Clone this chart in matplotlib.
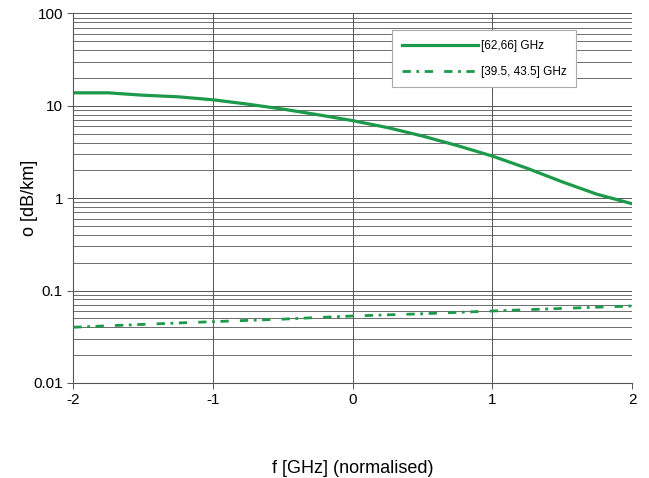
import matplotlib.pyplot as plt
from matplotlib.ticker import LogLocator, FixedLocator, NullFormatter

plt.rcParams['font.family'] = ['Liberation Sans', 'DejaVu Sans']

# normalised frequency offset
f_norm = [-2.0, -1.75, -1.5, -1.25, -1.0, -0.75, -0.5, -0.25, 0.0,
          0.25, 0.5, 0.75, 1.0, 1.25, 1.5, 1.75, 2.0]
# specific attenuation, 62-66 GHz band
att_60 = [13.8, 13.8, 13.0, 12.5, 11.6, 10.4, 9.2, 8.0, 6.9,
          5.8, 4.7, 3.7, 2.85, 2.1, 1.5, 1.1, 0.87]
# specific attenuation, 39.5-43.5 GHz band
att_40 = [0.040, 0.0415, 0.043, 0.0445, 0.046, 0.0475, 0.049, 0.051, 0.053,
          0.0545, 0.056, 0.058, 0.060, 0.062, 0.064, 0.066, 0.068]

GREEN = '#1c9a4a'

fig = plt.figure(figsize=(6.49, 4.78), dpi=100)
ax = fig.add_axes([0.113, 0.199, 0.861, 0.773])

ax.plot(f_norm, att_60, color=GREEN, lw=2.3, label='[62,66] GHz')
ax.plot(f_norm, att_40, color=GREEN, lw=2.0, dashes=(3, 2, 1, 2, 3, 4),
        label='[39.5, 43.5] GHz')

ax.set_yscale('log')
ax.set_ylim(0.01, 100)
ax.set_xlim(-2, 2)
ax.xaxis.set_major_locator(FixedLocator([-2, -1, 0, 1, 2]))
ax.set_xticklabels(['-2', '-1', '0', '1', '2'])
ax.yaxis.set_major_locator(FixedLocator([0.01, 0.1, 1, 10, 100]))
ax.set_yticklabels(['0.01', '0.1', '1', '10', '100'])
ax.yaxis.set_minor_locator(LogLocator(base=10, subs=range(2, 10)))
ax.yaxis.set_minor_formatter(NullFormatter())

ax.grid(True, which='major', axis='both', color='#555555', lw=0.7)
ax.grid(True, which='minor', axis='y', color='#555555', lw=0.6)
ax.tick_params(which='minor', length=0)
ax.tick_params(which='major', length=4, width=0.7, color='#555555',
               labelsize=11, direction='out')

for s in ['top', 'right']:
    ax.spines[s].set_visible(False)
for s in ['left', 'bottom']:
    ax.spines[s].set_color('#555555')
    ax.spines[s].set_linewidth(0.8)

ax.set_ylabel('o [dB/km]', fontsize=13)
ax.yaxis.set_label_coords(-0.064, 0.5)
ax.set_xlabel('f [GHz] (normalised)', fontsize=13, labelpad=38)

leg = ax.legend(loc='upper right', bbox_to_anchor=(0.91, 0.97), fontsize=8.5,
                frameon=True, fancybox=False, edgecolor='#aaaaaa',
                framealpha=1, handlelength=6.5, handletextpad=0.2,
                borderpad=0.8, labelspacing=1.2)
leg.get_frame().set_linewidth(0.8)

fig.savefig('out.png', dpi=100)
